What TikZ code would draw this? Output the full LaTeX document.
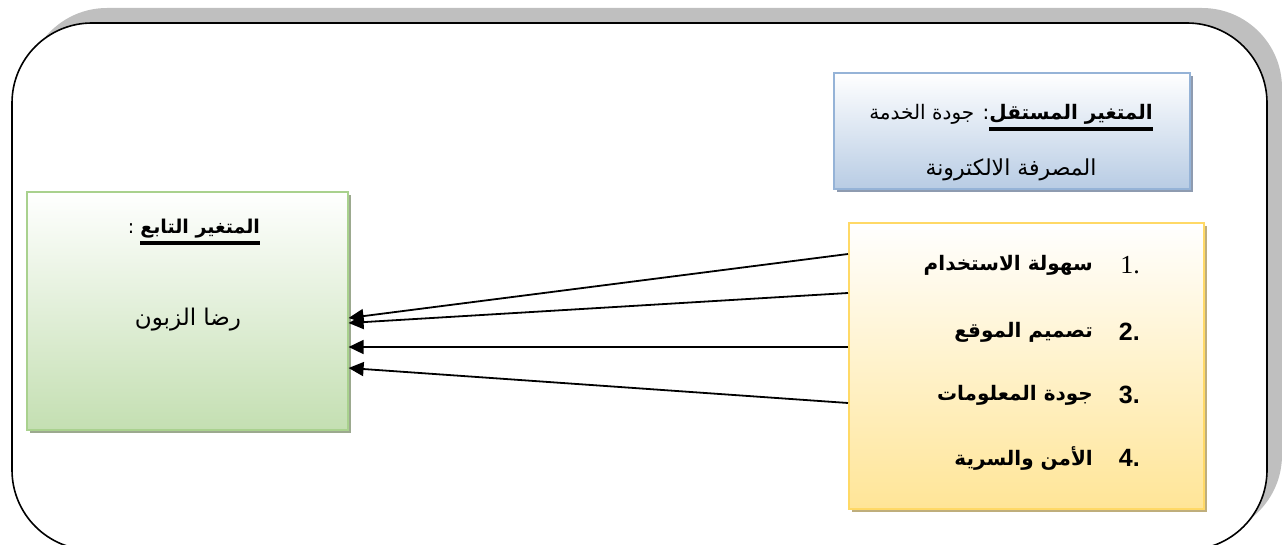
\documentclass[tikz,border=0pt]{standalone}
\usepackage{fontspec}
\usetikzlibrary{arrows.meta,calc}
\TeXXeTstate=1
\newfontfamily\arabicfont[Script=Arabic]{DejaVu Sans}
\newfontfamily\numserif{Liberation Serif}
\newfontfamily\numsans{Liberation Sans}

\definecolor{frameshadow}{HTML}{BFBFBF}
\definecolor{blueedge}{HTML}{95B3D7}
\definecolor{bluefill}{HTML}{B8CCE4}
\definecolor{blueshadow}{HTML}{8E9BB0}
\definecolor{yellowedge}{HTML}{FFD966}
\definecolor{yellowfill}{HTML}{FFE597}
\definecolor{yellowshadow}{HTML}{BFAE7C}
\definecolor{greenedge}{HTML}{A9D18E}
\definecolor{greenfill}{HTML}{C4DFB2}
\definecolor{greenshadow}{HTML}{9CA98F}

% thick underline under a right-to-left phrase
\newcommand\thickul[1]{\vtop{\hbox{\beginR#1\endR}\kern2.5pt\hrule height 4pt}}

\tikzset{
  varbox/.style={draw, line width=1.6pt, rectangle, inner sep=0pt, anchor=north west},
  artext/.style={font=\arabicfont\fontsize{20}{24}\selectfont, inner sep=0pt},
  itemtext/.style={font=\arabicfont\bfseries\fontsize{20}{24}\selectfont, inner sep=0pt, anchor=east},
  numsty/.style={font=\numsans\bfseries\fontsize{25}{28}\selectfont, inner sep=0pt, anchor=east},
  conn/.style={line width=1.8pt, -{Triangle[length=15pt,width=14pt]}}
}

\begin{document}
\begin{tikzpicture}[x=1pt,y=-1pt]
\useasboundingbox (0,0) rectangle (1282,545);
\clip (0,0) rectangle (1282,545);

% outer frame with its shadow
\fill[frameshadow, rounded corners=80pt] (27,8) rectangle (1282,535);
\draw[fill=white, line width=1.6pt, rounded corners=80pt] (12,23) rectangle (1267,550);

% independent variable heading box
\fill[blueshadow] (837,76) rectangle (1193,192);
\node[varbox, draw=blueedge, top color=white, bottom color=bluefill,
      minimum width=356pt, minimum height=116pt] (indep) at (833,72) {};
\node[artext] (indepa) at (1011,118)
  {\beginR\thickul{\bfseries المتغير المستقل}: جودة الخدمة\endR};
\node[artext, font=\arabicfont\fontsize{22}{26}\selectfont] (indepb) at (1011,170) {\beginR المصرفة الالكترونة\endR};

% dimensions box
\fill[yellowshadow] (852,226) rectangle (1207,512);
\node[varbox, draw=yellowedge, top color=white, bottom color=yellowfill,
      minimum width=355pt, minimum height=286pt] (dims) at (848,222) {};
\node[numsty, font=\numserif\fontsize{26}{28}\selectfont] (n1) at (1140,265) {1.};
\node[numsty] (n2) at (1140,332) {2.};
\node[numsty] (n3) at (1140,395) {3.};
\node[numsty] (n4) at (1140,458) {4.};
\node[itemtext] (d1) at (1093,265) {\beginR سهولة الاستخدام\endR};
\node[itemtext] (d2) at (1093,332) {\beginR تصميم الموقع\endR};
\node[itemtext] (d3) at (1093,395) {\beginR جودة المعلومات\endR};
\node[itemtext] (d4) at (1093,458) {\beginR الأمن والسرية\endR};

% dependent variable box
\fill[greenshadow] (30,195) rectangle (351,433);
\node[varbox, draw=greenedge, top color=white, bottom color=greenfill,
      minimum width=321pt, minimum height=238pt] (dep) at (26,191) {};
\node[artext, font=\arabicfont\fontsize{19}{23}\selectfont] (depa) at (194,232) {\beginR\thickul{\bfseries المتغير التابع} :\endR};
\node[artext, font=\arabicfont\fontsize{23}{27}\selectfont] (depb) at (188,320) {\beginR رضا الزبون\endR};

% connector ends on the box edges
\coordinate (s1) at (dims.west |- 0,254);
\coordinate (s2) at (dims.west |- 0,293);
\coordinate (s3) at (dims.west |- 0,347);
\coordinate (s4) at (dims.west |- 0,403);
\coordinate (t1) at (dep.east |- 0,318);
\coordinate (t2) at (dep.east |- 0,323);
\coordinate (t3) at (dep.east |- 0,347);
\coordinate (t4) at (dep.east |- 0,368);

\draw[conn] (s1) -- (t1);
\draw[conn] (s2) -- (t2);
\draw[conn] (s3) -- (t3);
\draw[conn] (s4) -- (t4);
\end{tikzpicture}
\end{document}
